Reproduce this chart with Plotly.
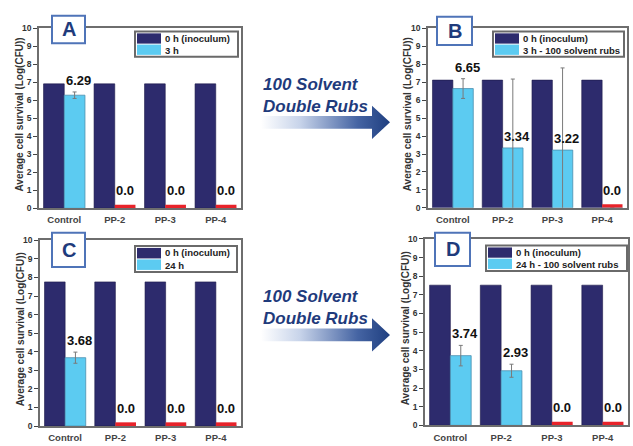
import plotly.graph_objects as go

W, H = 633, 446

# ---------------- data ----------------
categories = ["Control", "PP-2", "PP-3", "PP-4"]

a_inoculum = [6.92, 6.92, 6.92, 6.92]
a_treated = [6.29, 0.0, 0.0, 0.0]
a_err = [0.18, 0.0, 0.0, 0.0]

b_inoculum = [7.12, 7.12, 7.12, 7.12]
b_treated = [6.65, 3.34, 3.22, 0.0]
b_err = [0.55, 3.84, 4.58, 0.0]

c_inoculum = [7.76, 7.76, 7.76, 7.76]
c_treated = [3.68, 0.0, 0.0, 0.0]
c_err = [0.30, 0.0, 0.0, 0.0]

d_inoculum = [7.52, 7.52, 7.52, 7.52]
d_treated = [3.74, 2.93, 0.0, 0.0]
d_err = [0.55, 0.35, 0.0, 0.0]

panel_letters = ["A", "B", "C", "D"]
inoculum_label = "0 h (inoculum)"
treated_labels = ["3 h", "3 h - 100 solvent rubs", "24 h", "24 h - 100 solvent rubs"]
y_title = "Average cell survival (Log(CFU))"
y_ticks = list(range(0, 11))
arrow_text = "100 Solvent<br>Double Rubs"

# ---------------- style ----------------
FONT = "Arial, Liberation Sans, sans-serif"
DARK = "#2d2b6d"
LIGHT = "#5ccbf1"
RED = "#e8232a"
FRAME = "#6e6e6e"
NAVY_TXT = "#1f3b7c"
BOX_BLUE = "#4f74b8"
BARGAP = 0.18
ZERO_MARK = 0.2  # visual thickness of the red "zero" marker

panels = [
    dict(inoc=a_inoculum, tr=a_treated, err=a_err, plot=(39, 24, 241, 208),
         legend=(135, 27, 238, 53), letter=(52, 11, 85, 39), title_x=19),
    dict(inoc=b_inoculum, tr=b_treated, err=b_err, plot=(428, 24, 627, 207.5),
         legend=(493, 27, 624, 53), letter=(437, 12, 472, 41), title_x=407),
    dict(inoc=c_inoculum, tr=c_treated, err=c_err, plot=(40, 240.7, 241, 430.7),
         legend=(135, 246.5, 237, 273), letter=(52, 233, 85, 268), title_x=20),
    dict(inoc=d_inoculum, tr=d_treated, err=d_err, plot=(425, 239.3, 628, 430),
         legend=(486, 246, 627, 272), letter=(435, 233, 470, 267), title_x=405),
]


def PX(x):
    return x / W


def PY(y):
    return 1 - y / H


fig = go.Figure()
shapes = []
annotations = []

for i, p in enumerate(panels):
    sfx = "" if i == 0 else str(i + 1)
    xa, ya = "x" + sfx, "y" + sfx
    x0, y0, x1, y1 = p["plot"]

    fig.add_trace(go.Bar(
        x=categories, y=p["inoc"], xaxis=xa, yaxis=ya, offsetgroup="inoc",
        marker=dict(color=DARK, line=dict(color="#1c1a4a", width=0.6)),
        showlegend=False, hoverinfo="skip"))
    fig.add_trace(go.Bar(
        x=categories, y=p["tr"], xaxis=xa, yaxis=ya, offsetgroup="tr",
        marker=dict(color=LIGHT, line=dict(color="#4a8fb0", width=0.8)),
        error_y=dict(type="data", array=p["err"], visible=True,
                     color="#7a7a7a", thickness=1, width=2),
        showlegend=False, hoverinfo="skip"))
    zero_marks = [ZERO_MARK if v == 0 else None for v in p["tr"]]
    fig.add_trace(go.Bar(
        x=categories, y=zero_marks, xaxis=xa, yaxis=ya, offsetgroup="tr",
        marker=dict(color=RED, line=dict(width=0)),
        showlegend=False, hoverinfo="skip"))

    fig.layout["xaxis" + sfx] = dict(
        domain=[PX(x0), PX(x1)], anchor=ya, type="category",
        showline=True, mirror=True, linecolor=FRAME, linewidth=1.5,
        ticks="", showgrid=False, zeroline=False,
        tickfont=dict(family=FONT, size=9.5, color="#444", weight="bold"),
        ticklabelstandoff=2)
    fig.layout["yaxis" + sfx] = dict(
        domain=[PY(y1), PY(y0)], anchor=xa, range=[0, 10],
        tickvals=y_ticks, ticks="outside", ticklen=4, tickwidth=1, tickcolor="#444",
        showline=True, mirror=True, linecolor=FRAME, linewidth=1.5,
        showgrid=False, zeroline=False,
        tickfont=dict(family=FONT, size=8.5, color="#333", weight="bold"))

    # y-axis title
    annotations.append(dict(
        x=PX(p["title_x"]), y=PY((y0 + y1) / 2 - 4), xref="paper", yref="paper",
        text=y_title, textangle=-90, showarrow=False,
        xanchor="center", yanchor="middle",
        font=dict(family=FONT, size=10, color="#333", weight="bold")))

    # value labels
    off = (1 - BARGAP) / 4
    for k, (v, e) in enumerate(zip(p["tr"], p["err"])):
        if v > 0:
            base = v + e if e < 1 else v
            annotations.append(dict(
                x=k + off, y=base, xref=xa, yref=ya, text=f"{v:.2f}",
                showarrow=False, yanchor="bottom", xshift=4, yshift=2,
                font=dict(family=FONT, size=13, color="#111", weight="bold")))
        else:
            annotations.append(dict(
                x=k + off, y=0, xref=xa, yref=ya, text="0.0",
                showarrow=False, yanchor="bottom", yshift=8,
                font=dict(family=FONT, size=13, color="#111", weight="bold")))

    # manual legend
    lx0, ly0, lx1, ly1 = p["legend"]
    shapes.append(dict(type="rect", xref="paper", yref="paper",
                       x0=PX(lx0), x1=PX(lx1), y0=PY(ly1), y1=PY(ly0),
                       line=dict(color="#6a6a6a", width=2), fillcolor="white"))
    ym = (ly0 + ly1) / 2
    sw = 24
    shapes.append(dict(type="rect", xref="paper", yref="paper",
                       x0=PX(lx0 + 2), x1=PX(lx0 + 2 + sw), y0=PY(ym - 0.5), y1=PY(ly0 + 2),
                       line=dict(color=DARK, width=0), fillcolor=DARK))
    shapes.append(dict(type="rect", xref="paper", yref="paper",
                       x0=PX(lx0 + 2), x1=PX(lx0 + 2 + sw), y0=PY(ly1 - 2), y1=PY(ym + 0.5),
                       line=dict(color=LIGHT, width=0), fillcolor=LIGHT))
    for txt, yy in ((inoculum_label, (ly0 + ym) / 2 + 0.5), (treated_labels[i], (ym + ly1) / 2)):
        annotations.append(dict(
            x=PX(lx0 + sw + 4), y=PY(yy), xref="paper", yref="paper", text=txt,
            showarrow=False, xanchor="left", yanchor="middle",
            font=dict(family=FONT, size=9.5, color="#222", weight="bold")))

    # panel letter box
    bx0, by0, bx1, by1 = p["letter"]
    shapes.append(dict(type="rect", xref="paper", yref="paper",
                       x0=PX(bx0), x1=PX(bx1), y0=PY(by1), y1=PY(by0),
                       line=dict(color=BOX_BLUE, width=2), fillcolor="white"))
    annotations.append(dict(
        x=PX((bx0 + bx1) / 2), y=PY((by0 + by1) / 2), xref="paper", yref="paper",
        text=panel_letters[i], showarrow=False, xanchor="center", yanchor="middle",
        font=dict(family=FONT, size=20, color=NAVY_TXT, weight="bold")))


# ---------------- decorative arrows (pixel-space overlay axes) ----------------
def arrow_poly(xs, xb, xt, yc, bh, hh):
    xx = [xs, xb, xb, xt, xb, xb, xs, xs]
    yy = [yc - bh, yc - bh, yc - hh, yc, yc + hh, yc + bh, yc + bh, yc - bh]
    return xx, yy


for yc, ytxt in ((120, 92.5), (337.5, 309)):
    ax, ay = arrow_poly(261, 372, 390, yc, 6.5, 17)
    fig.add_trace(go.Scatter(
        x=ax, y=ay, xaxis="x5", yaxis="y5", mode="lines", fill="toself",
        line=dict(width=0, color="rgba(0,0,0,0)"),
        fillgradient=dict(type="horizontal",
                          colorscale=[[0, "#ffffff"], [0.3, "#c8d4ea"],
                                      [0.75, "#4564a3"], [1, "#1f3f80"]]),
        showlegend=False, hoverinfo="skip"))
    annotations.append(dict(
        x=PX(261), y=PY(ytxt), xref="paper", yref="paper", text=arrow_text,
        showarrow=False, xanchor="left", yanchor="middle", align="left",
        font=dict(family=FONT, size=17, color=NAVY_TXT, weight="bold", style="italic")))

fig.layout["xaxis5"] = dict(domain=[0, 1], range=[0, W], visible=False, anchor="y5")
fig.layout["yaxis5"] = dict(domain=[0, 1], range=[H, 0], visible=False, anchor="x5")

fig.update_layout(
    width=W, height=H, margin=dict(l=0, r=0, t=0, b=0),
    paper_bgcolor="white", plot_bgcolor="rgba(0,0,0,0)",
    barmode="group", bargap=BARGAP, bargroupgap=0,
    shapes=shapes, annotations=annotations,
    font=dict(family=FONT),
)

fig.write_html("out.html", config={"displayModeBar": False},
               post_script="document.body.style.margin='0';document.body.style.overflow='hidden';")
